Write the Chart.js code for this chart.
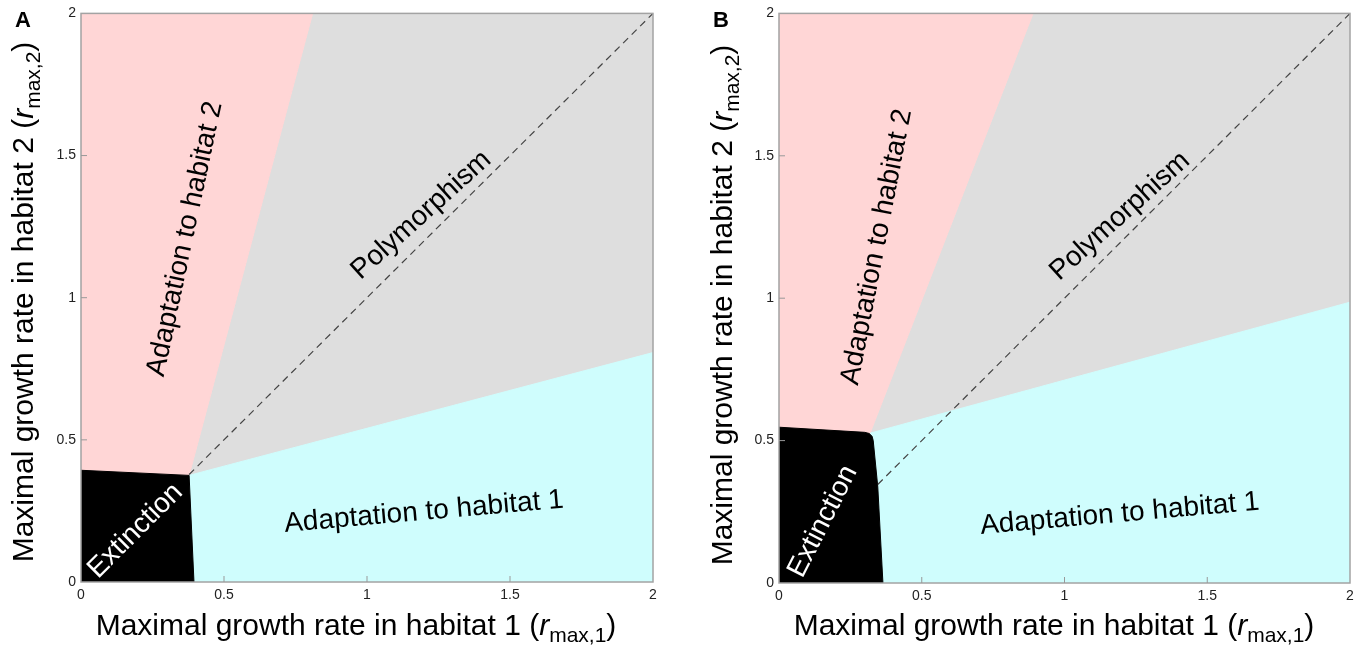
<!DOCTYPE html>
<html>
<head>
<meta charset="utf-8">
<script src="https://cdn.jsdelivr.net/npm/chart.js@4.4.1/dist/chart.umd.min.js"></script>
<style>
  body { margin: 0; background: #fff; }
  #wrap { position: relative; width: 1372px; height: 646px; }
  canvas { position: absolute; top: 0; }
  #chartA { left: 0; }
  #chartB { left: 686px; }
</style>
</head>
<body>
<div id="wrap">
  <canvas id="chartA" width="686" height="646"></canvas>
  <canvas id="chartB" width="686" height="646"></canvas>
</div>
<script>
// ticks used on both axes
const tickValues = [0, 0.5, 1, 1.5, 2];

const regionNames = ['Adaptation to habitat 2', 'Polymorphism', 'Adaptation to habitat 1', 'Extinction'];

// panel A, region corners as [r_max,1 , r_max,2]
const extinctionA = [[0, 0], [0, 0.393], [0.378, 0.375], [0.395, 0]];
const habitat2A   = [[0, 0.393], [0, 2], [0.81, 2], [0.378, 0.375]];
const polymorphA  = [[0.378, 0.375], [0.81, 2], [2, 2], [2, 0.807]];
const habitat1A   = [[0.378, 0.375], [2, 0.807], [2, 0], [0.395, 0]];
const diagonalA   = [[0.378, 0.378], [2, 2]];

// panel B
const extinctionB = [[0, 0], [0, 0.547], [0.3, 0.529], [0.316, 0.525], [0.326, 0.515], [0.33, 0.5], [0.346, 0.337], [0.364, 0]];
const habitat2B   = [[0, 0.547], [0, 2], [0.89, 2], [0.319, 0.526], [0.3, 0.529]];
const polymorphB  = [[0.319, 0.526], [0.89, 2], [2, 2], [2, 0.986]];
const habitat1B   = [[0.319, 0.526], [2, 0.986], [2, 0], [0.364, 0], [0.346, 0.337], [0.33, 0.5]];
const diagonalB   = [[0.346, 0.346], [2, 2]];

const PINK = '#ffd6d6', GRAY = '#dedede', CYAN = '#cffdfd', BLACK = '#000000';
const FONT = '"Liberation Sans", Arial, sans-serif';

// where the region names sit (data coords) and their rotation
const placeA = [
  { x: 0.364, y: 1.207, rot: -78 },
  { x: 1.19,  y: 1.29,  rot: -42 },
  { x: 1.199, y: 0.246, rot: -5 },
  { x: 0.19,  y: 0.18,  rot: -45 }
];
const placeB = [
  { x: 0.343, y: 1.18,  rot: -79 },
  { x: 1.194, y: 1.288, rot: -42 },
  { x: 1.194, y: 0.242, rot: -5 },
  { x: 0.154, y: 0.216, rot: -63 }
];

const pts = arr => arr.map(([x, y]) => ({ x, y }));

function region(arr, color) {
  const p = pts(arr);
  p.push(p[0]);
  return {
    data: p, showLine: true, fill: 'shape', tension: 0,
    backgroundColor: color, borderColor: color, borderWidth: 1, pointRadius: 0
  };
}

function dashed(arr) {
  return {
    data: pts(arr), showLine: true, fill: false, tension: 0,
    borderColor: '#444', borderWidth: 1.2, borderDash: [7, 5], pointRadius: 0
  };
}

// text with italic r and subscript, centred on cx
function richText(ctx, parts, cx, cy, rot, size) {
  ctx.save();
  ctx.translate(cx, cy);
  ctx.rotate(rot);
  ctx.textBaseline = 'alphabetic';
  ctx.textAlign = 'left';
  ctx.fillStyle = '#000';
  const fonts = parts.map(p => p[1] === 'i' ? 'italic ' + size + 'px ' + FONT
    : p[1] === 's' ? Math.round(size * 0.7) + 'px ' + FONT : size + 'px ' + FONT);
  const widths = parts.map((p, i) => { ctx.font = fonts[i]; return ctx.measureText(p[0]).width; });
  let x = -widths.reduce((a, b) => a + b, 0) / 2;
  parts.forEach((p, i) => {
    ctx.font = fonts[i];
    ctx.fillText(p[0], x, p[1] === 's' ? size * 0.22 : 0);
    x += widths[i];
  });
  ctx.restore();
}

const panelPlugin = {
  id: 'panel',
  afterDatasetsDraw(chart, args, opts) {
    const ctx = chart.ctx, xs = chart.scales.x, ys = chart.scales.y;
    ctx.save();
    ctx.font = '28px ' + FONT;
    ctx.textAlign = 'center';
    ctx.textBaseline = 'middle';
    regionNames.forEach((name, i) => {
      const p = opts.place[i];
      ctx.save();
      ctx.translate(xs.getPixelForValue(p.x), ys.getPixelForValue(p.y));
      ctx.rotate(p.rot * Math.PI / 180);
      ctx.fillStyle = name === 'Extinction' ? '#fff' : '#000';
      ctx.fillText(name, 0, 0);
      ctx.restore();
    });
    ctx.restore();
  },
  afterDraw(chart, args, opts) {
    const ctx = chart.ctx, a = chart.chartArea, xs = chart.scales.x, ys = chart.scales.y;
    ctx.save();
    ctx.strokeStyle = '#a3a3a3';
    ctx.lineWidth = 1.5;
    ctx.strokeRect(a.left, a.top, a.right - a.left, a.bottom - a.top);
    // small inward ticks
    ctx.lineWidth = 1;
    ctx.strokeStyle = '#999';
    ctx.beginPath();
    tickValues.slice(1, -1).forEach(v => {
      const px = xs.getPixelForValue(v), py = ys.getPixelForValue(v);
      ctx.moveTo(px, a.bottom); ctx.lineTo(px, a.bottom - 6);
      ctx.moveTo(a.left, py); ctx.lineTo(a.left + 6, py);
    });
    ctx.stroke();
    ctx.restore();

    richText(ctx, [['Maximal growth rate in habitat 1 (', 'n'], ['r', 'i'], ['max,1', 's'], [')', 'n']],
      opts.xTitle[0], opts.xTitle[1], 0, 30);
    richText(ctx, [['Maximal growth rate in habitat 2 (', 'n'], ['r', 'i'], ['max,2', 's'], [')', 'n']],
      opts.yTitle[0], opts.yTitle[1], -Math.PI / 2, 30);

    ctx.save();
    ctx.font = 'bold 22px ' + FONT;
    ctx.textAlign = 'center';
    ctx.textBaseline = 'alphabetic';
    ctx.fillStyle = '#000';
    ctx.fillText(opts.letter, opts.letterPos[0], opts.letterPos[1]);
    ctx.restore();
  }
};

function axis() {
  return {
    type: 'linear', min: 0, max: 2,
    afterBuildTicks: s => { s.ticks = tickValues.map(v => ({ value: v })); },
    grid: { display: false, drawTicks: false },
    border: { display: false },
    ticks: { padding: 5, color: '#222', font: { size: 14, family: FONT }, maxRotation: 0, autoSkip: false,
      callback: v => String(v) }
  };
}

function makeChart(id, datasets, pad, panelOpts) {
  const xAxis = axis(), yAxis = axis();
  xAxis.afterFit = s => { s.height = 30; };
  yAxis.afterFit = s => { s.width = 40; };
  xAxis.ticks.padding = 5;
  return new Chart(document.getElementById(id), {
    type: 'scatter',
    data: { datasets },
    options: {
      responsive: false,
      animation: false,
      events: [],
      layout: { padding: pad },
      scales: { x: xAxis, y: yAxis },
      plugins: { legend: { display: false }, tooltip: { enabled: false }, panel: panelOpts }
    },
    plugins: [panelPlugin]
  });
}

// first dataset is drawn on top
makeChart('chartA',
  [dashed(diagonalA), region(extinctionA, BLACK), region(habitat1A, CYAN), region(habitat2A, PINK), region(polymorphA, GRAY)],
  { left: 41, right: 33, top: 12, bottom: 34 },
  { place: placeA, xTitle: [356, 635], yTitle: [33, 302], letter: 'A', letterPos: [23, 27] });

makeChart('chartB',
  [dashed(diagonalB), region(extinctionB, BLACK), region(habitat1B, CYAN), region(habitat2B, PINK), region(polymorphB, GRAY)],
  { left: 53, right: 22, top: 13, bottom: 33 },
  { place: placeB, xTitle: [368, 635], yTitle: [46, 305], letter: 'B', letterPos: [35, 27] });
</script>
</body>
</html>
